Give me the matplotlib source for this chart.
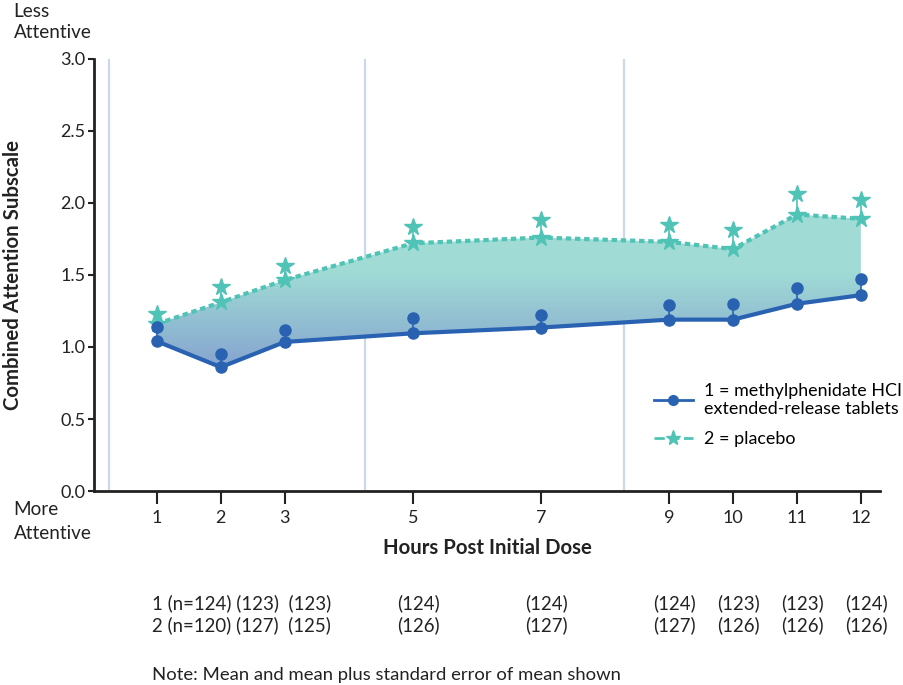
import matplotlib
matplotlib.use("Agg")
import matplotlib.pyplot as plt
import numpy as np
from matplotlib.colors import LinearSegmentedColormap
from matplotlib.lines import Line2D

plt.rcParams['font.family'] = ['Lato', 'DejaVu Sans']

# data
hours = [1, 2, 3, 5, 7, 9, 10, 11, 12]
mph_mean = [1.04, 0.86, 1.035, 1.095, 1.135, 1.19, 1.19, 1.30, 1.36]
mph_upper = [1.14, 0.95, 1.12, 1.20, 1.22, 1.29, 1.30, 1.41, 1.47]
pbo_mean = [1.16, 1.31, 1.465, 1.72, 1.76, 1.73, 1.68, 1.92, 1.89]
pbo_upper = [1.23, 1.42, 1.565, 1.835, 1.88, 1.85, 1.81, 2.06, 2.02]
n_mph = [124, 123, 123, 124, 124, 124, 123, 123, 124]
n_pbo = [120, 127, 125, 126, 127, 127, 126, 126, 126]
session_lines = [0.25, 4.25, 8.3]

blue = '#2a62b2'
teal = '#4fc3b6'
ink = '#222222'

fig = plt.figure(figsize=(9.04, 6.85), dpi=100)
ax = fig.add_axes([0.104, 0.2832, 0.8695, 0.6307])

# vertical session lines
for x in session_lines:
    ax.axvline(x, color='#c9d9e8', lw=1.6, zorder=0)

# gradient fill between the two means
poly = ax.fill_between(hours, mph_mean, pbo_mean, color='none', lw=0)
cmap = LinearSegmentedColormap.from_list(
    'g', [(0, '#85a3cf'), (0.62, '#a0dcd5'), (1, '#a1ddd5')])
grad = np.linspace(0, 1, 256).reshape(-1, 1)
img = ax.imshow(grad, cmap=cmap, aspect='auto', origin='lower',
                extent=[0, 12.3, 0.85, 1.95], zorder=1)
img.set_clip_path(poly.get_paths()[0], transform=ax.transData)

# error bars (mean -> mean + SEM)
for h, m, u in zip(hours, mph_mean, mph_upper):
    ax.plot([h, h], [m, u], color=blue, lw=1.2, zorder=3)
for h, m, u in zip(hours, pbo_mean, pbo_upper):
    ax.plot([h, h], [m, u], color=teal, lw=1.2, zorder=3)

ax.plot(hours, pbo_mean, color=teal, lw=3, ls=(0, (1.3, 0.9)), zorder=4)
ax.plot(hours, pbo_mean, ls='none', marker='*', ms=13, color=teal, zorder=5)
ax.plot(hours, pbo_upper, ls='none', marker='*', ms=13, color=teal, zorder=5)

ax.plot(hours, mph_mean, color=blue, lw=3, zorder=4)
ax.plot(hours, mph_mean, ls='none', marker='o', ms=8, color=blue, zorder=5)
ax.plot(hours, mph_upper, ls='none', marker='o', ms=8, color=blue, zorder=5)

ax.set_xlim(0.02, 12.3)
ax.set_ylim(0, 3.0)
yt = np.arange(0, 3.01, 0.5)
ax.set_yticks(yt)
ax.set_yticklabels([f'{v:.1f}' for v in yt])
ax.set_xticks(hours)
ax.set_xticklabels([str(h) for h in hours])
ax.tick_params(axis='both', labelsize=13, colors=ink, width=1.5)
ax.tick_params(axis='y', length=4, pad=2)
ax.tick_params(axis='x', length=9, pad=5)
for s in ['top', 'right']:
    ax.spines[s].set_visible(False)
for s in ['left', 'bottom']:
    ax.spines[s].set_linewidth(2)
    ax.spines[s].set_color(ink)

ax.set_ylabel('Combined Attention Subscale', fontsize=14.7, fontweight='bold',
              labelpad=27, color=ink)
ax.set_xlabel('Hours Post Initial Dose', fontsize=14.7, fontweight='bold',
              labelpad=8, color=ink)

fig.text(0.015, 0.995, 'Less\nAttentive', fontsize=13.6, va='top', ha='left', color=ink,
         linespacing=1.25)
fig.text(0.015, 0.268, 'More\nAttentive', fontsize=13.6, va='top', ha='left', color=ink,
         linespacing=1.45)

# legend
handles = [Line2D([], [], color=blue, lw=2, marker='o', ms=7),
           Line2D([], [], color=teal, lw=2, ls='--', marker='*', ms=11)]
fig.legend(handles, ['1 = methylphenidate HCI\nextended-release tablets', '2 = placebo'],
           loc='upper left', bbox_to_anchor=(0.715, 0.452), frameon=False,
           fontsize=12.9, handlelength=2.2, handletextpad=0.6, labelspacing=0.8,
           borderaxespad=0)

# n table below the axis
row_y = [0.119, 0.087]
tr = matplotlib.transforms.blended_transform_factory(ax.transData, fig.transFigure)
for grp, ns, y in zip(['1', '2'], [n_mph, n_pbo], row_y):
    first = f'{grp} (n={ns[0]}) ({ns[1]})  ({ns[2]})'
    ax.text(0.92, y, first, transform=tr, fontsize=13.4, ha='left', va='center', color=ink)
    for h, n in zip(hours[3:], ns[3:]):
        ax.text(h + 0.09, y, f'({n})', transform=tr, fontsize=13.4, ha='center', va='center',
                color=ink)

ax.text(0.92, 0.014, 'Note: Mean and mean plus standard error of mean shown', transform=tr,
        fontsize=13.3, ha='left', va='center', color=ink)

fig.savefig('out.png', dpi=100)
